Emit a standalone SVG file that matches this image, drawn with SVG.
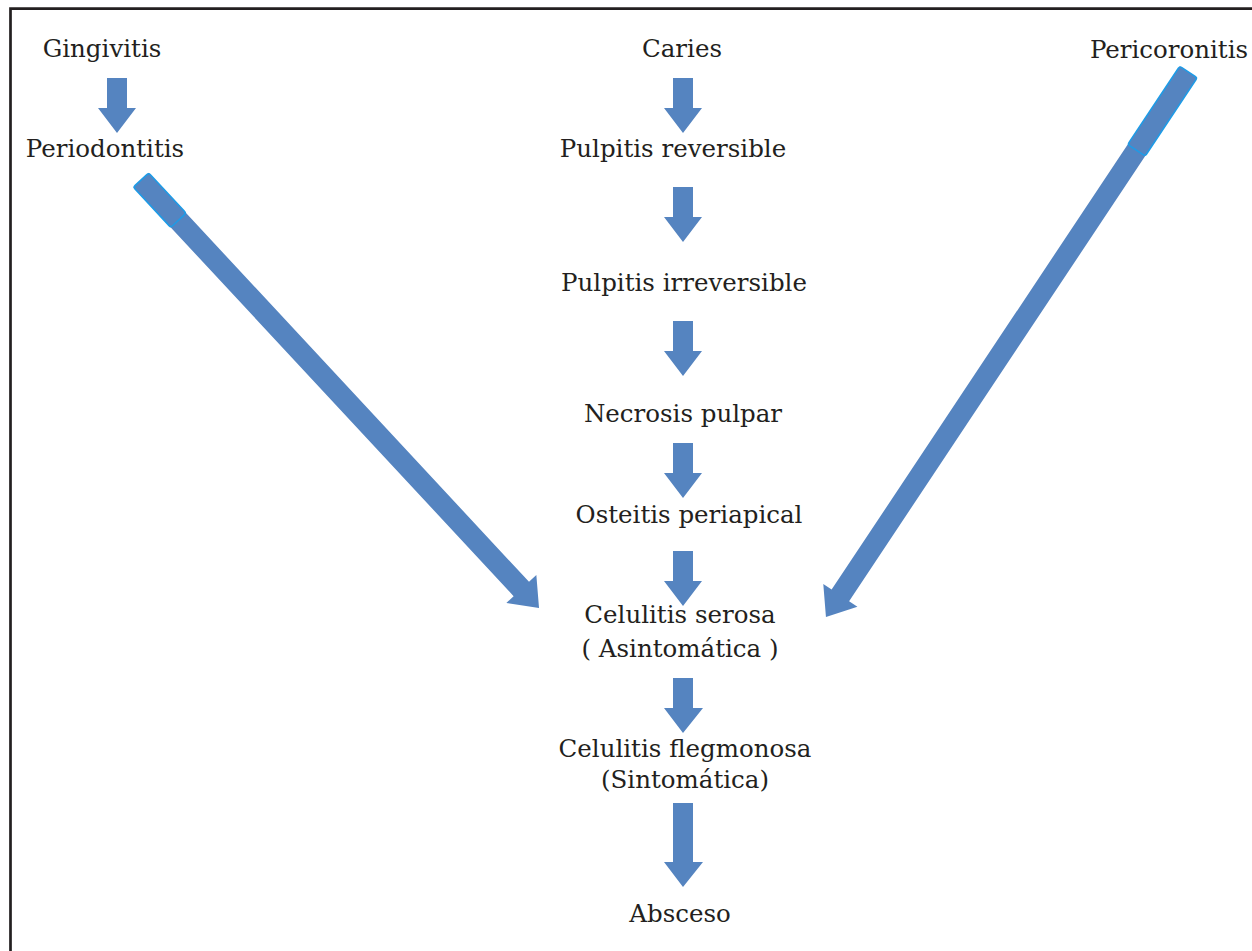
<svg xmlns="http://www.w3.org/2000/svg" width="1252" height="951" viewBox="0 0 1252 951">
<defs>
<style>
text{font-family:"DejaVu Serif","Liberation Serif",serif;font-size:24.5px;fill:#231f20;text-anchor:middle}
.a{fill:#5584c0}
.sel{fill:none;stroke:#1e9be6;stroke-width:1.6}
</style>
<path id="down" class="a" d="M-10,0 H10 V30 H19 L0,55 L-19,30 H-10 Z"/>
</defs>
<rect width="1252" height="951" fill="#fff"/>
<path d="M10.5,951 V8.7 H1252" fill="none" stroke="#231f20" stroke-width="2.7"/>
<g id="connectors">
<use href="#down" x="117" y="78"/>
<use href="#down" x="683" y="78"/>
<use href="#down" x="683" y="187"/>
<use href="#down" x="683" y="321"/>
<use href="#down" x="683" y="443"/>
<use href="#down" x="683" y="551"/>
<path class="a" d="M673,678 H693 V708 H703 L683,733 L664,708 H673 Z"/>
<path class="a" d="M673,803 H693 V862 H703 L683,887 L664,862 H673 Z"/>
<g transform="translate(141,180) rotate(47.08)">
<path class="a" d="M0,-10.5 H558.5 V-20.5 L584.5,0 L558.5,20.5 V10.5 H0 Z"/>
<rect class="sel" x="0" y="-10.5" width="55" height="21" rx="2.5"/>
</g>
<g transform="translate(1188.5,72) rotate(123.63)">
<path class="a" d="M0,-10.5 H628.6 V-20.5 L654.6,0 L628.6,20.5 V10.5 H0 Z"/>
<rect class="sel" x="0" y="-10.5" width="94" height="21" rx="2.5"/>
</g>
</g>
<g id="n-gingivitis"><text x="102" y="57">Gingivitis</text></g>
<g id="n-periodontitis"><text x="105" y="157">Periodontitis</text></g>
<g id="n-caries"><text x="682" y="57">Caries</text></g>
<g id="n-pericoronitis"><text x="1169" y="58">Pericoronitis</text></g>
<g id="n-pulpitis-rev"><text x="673" y="157">Pulpitis reversible</text></g>
<g id="n-pulpitis-irr"><text x="684" y="291">Pulpitis irreversible</text></g>
<g id="n-necrosis"><text x="683" y="422">Necrosis pulpar</text></g>
<g id="n-osteitis"><text x="689" y="523">Osteitis periapical</text></g>
<g id="n-serosa"><text x="680" y="623">Celulitis serosa</text><text x="680" y="657">( Asintomática )</text></g>
<g id="n-flegmonosa"><text x="685" y="757">Celulitis flegmonosa</text><text x="685" y="788">(Sintomática)</text></g>
<g id="n-absceso"><text x="680" y="922">Absceso</text></g>
</svg>
